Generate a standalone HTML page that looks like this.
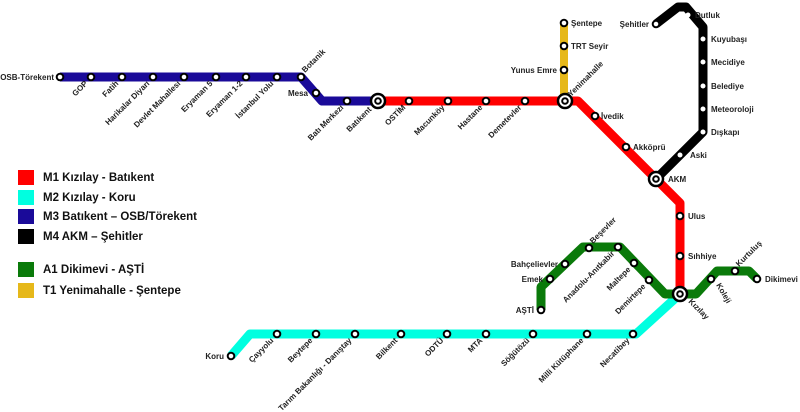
<!DOCTYPE html>
<html><head><meta charset="utf-8"><style>
html,body{margin:0;padding:0;background:#fff;}
svg{display:block;}
text{font-family:"Liberation Sans",sans-serif;font-weight:bold;font-size:8px;fill:#222;}
.lg{font-size:11.5px;fill:#111;}
.s{fill:#fff;stroke:#000;stroke-width:2;}
.w{fill:#fff;stroke:none;}
</style></head><body>
<svg width="800" height="412" viewBox="0 0 800 412" xmlns="http://www.w3.org/2000/svg">
<g fill="none" stroke-linejoin="round" stroke-linecap="butt">
<path d="M564,101 V23" stroke="#e6b81a" stroke-width="8"/>
<path d="M60,77 H301 L322,101 H378" stroke="#1a0a99" stroke-width="9"/>
<path d="M378,101 H578 L680,203 V294" stroke="#ff0000" stroke-width="9"/>
<path d="M656,24 L678,7 H686 L703,27 V132 L656,179" stroke="#000" stroke-width="9"/>
<path d="M680,294 L636,334 H250 L231,356" stroke="#00ffe0" stroke-width="9"/>
<path d="M541,310 V287 L583,247 H620 L665,294 H696 L717,271 H749 L757,279" stroke="#0a7a0a" stroke-width="9"/>
</g>
<!-- stations -->
<g>
<circle class="s" cx="60" cy="77" r="3.3"/><circle class="s" cx="91" cy="77" r="3.3"/><circle class="s" cx="122" cy="77" r="3.3"/><circle class="s" cx="153" cy="77" r="3.3"/><circle class="s" cx="184" cy="77" r="3.3"/><circle class="s" cx="216" cy="77" r="3.3"/><circle class="s" cx="246" cy="77" r="3.3"/><circle class="s" cx="277" cy="77" r="3.3"/><circle class="s" cx="301" cy="77" r="3.3"/><circle class="s" cx="316" cy="93" r="3.3"/><circle class="s" cx="347" cy="101" r="3.3"/>
<circle class="s" cx="409" cy="101" r="3.3"/><circle class="s" cx="448" cy="101" r="3.3"/><circle class="s" cx="486" cy="101" r="3.3"/><circle class="s" cx="525" cy="101" r="3.3"/>
<circle class="s" cx="595" cy="116" r="3.3"/><circle class="s" cx="626" cy="147" r="3.3"/>
<circle class="s" cx="680" cy="216" r="3.3"/><circle class="s" cx="680" cy="256" r="3.3"/>
<circle class="s" cx="564" cy="23" r="3.3"/><circle class="s" cx="564" cy="46" r="3.3"/><circle class="s" cx="564" cy="70" r="3.3"/>
<circle class="s" cx="656" cy="24" r="3.3"/>
<circle class="w" cx="688" cy="15" r="2.5"/><circle class="w" cx="703" cy="39" r="2.5"/><circle class="w" cx="703" cy="62" r="2.5"/><circle class="w" cx="703" cy="86" r="2.5"/><circle class="w" cx="703" cy="109" r="2.5"/><circle class="w" cx="703" cy="132" r="2.5"/><circle class="w" cx="680" cy="155" r="2.5"/>
<circle class="s" cx="541" cy="310" r="3.3"/><circle class="s" cx="550" cy="279" r="3.3"/><circle class="s" cx="565" cy="264" r="3.3"/><circle class="s" cx="589" cy="248" r="3.3"/><circle class="s" cx="618" cy="247" r="3.3"/><circle class="s" cx="634" cy="263" r="3.3"/><circle class="s" cx="649" cy="280" r="3.3"/><circle class="s" cx="711" cy="279" r="3.3"/><circle class="s" cx="735" cy="271" r="3.3"/><circle class="s" cx="757" cy="279" r="3.3"/>
<circle class="s" cx="231" cy="356" r="3.3"/><circle class="s" cx="277" cy="334" r="3.3"/><circle class="s" cx="316" cy="334" r="3.3"/><circle class="s" cx="355" cy="334" r="3.3"/><circle class="s" cx="401" cy="334" r="3.3"/><circle class="s" cx="447" cy="334" r="3.3"/><circle class="s" cx="486" cy="334" r="3.3"/><circle class="s" cx="533" cy="334" r="3.3"/><circle class="s" cx="587" cy="334" r="3.3"/><circle class="s" cx="633" cy="334" r="3.3"/>
</g>
<!-- interchanges -->
<g>
<circle cx="378" cy="101" r="7" fill="#fff" stroke="#000" stroke-width="2.5"/><circle cx="378" cy="101" r="2.8" fill="#fff" stroke="#000" stroke-width="2"/>
<circle cx="565" cy="101" r="7" fill="#fff" stroke="#000" stroke-width="2.5"/><circle cx="565" cy="101" r="2.8" fill="#fff" stroke="#000" stroke-width="2"/>
<circle cx="656" cy="179" r="7" fill="#fff" stroke="#000" stroke-width="2.5"/><circle cx="656" cy="179" r="2.8" fill="#fff" stroke="#000" stroke-width="2"/>
<circle cx="680" cy="294" r="7" fill="#fff" stroke="#000" stroke-width="2.5"/><circle cx="680" cy="294" r="2.8" fill="#fff" stroke="#000" stroke-width="2"/>
</g>
<!-- horizontal labels -->
<text x="54" y="80" text-anchor="end">OSB-Törekent</text>
<text x="308" y="96" text-anchor="end">Mesa</text>
<text x="571" y="26">Şentepe</text>
<text x="571" y="49">TRT Seyir</text>
<text x="557" y="73" text-anchor="end">Yunus Emre</text>
<text x="649" y="27" text-anchor="end">Şehitler</text>
<text x="695" y="18">Dutluk</text>
<text x="711" y="42">Kuyubaşı</text>
<text x="711" y="65">Mecidiye</text>
<text x="711" y="89">Belediye</text>
<text x="711" y="112">Meteoroloji</text>
<text x="711" y="135">Dışkapı</text>
<text x="690" y="158">Aski</text>
<text x="668" y="182">AKM</text>
<text x="601" y="119">İvedik</text>
<text x="633" y="150">Akköprü</text>
<text x="688" y="219">Ulus</text>
<text x="688" y="259">Sıhhiye</text>
<text x="558" y="267" text-anchor="end">Bahçelievler</text>
<text x="543" y="282" text-anchor="end">Emek</text>
<text x="534" y="313" text-anchor="end">AŞTİ</text>
<text x="765" y="282">Dikimevi</text>
<text x="224" y="359" text-anchor="end">Koru</text>
<!-- rotated up-right labels -->
<text transform="translate(305,73) rotate(-45)">Botanik</text>
<text transform="translate(571,97) rotate(-45)">Yenimahalle</text>
<text transform="translate(593,244) rotate(-45)">Beşevler</text>
<text transform="translate(739,267) rotate(-45)">Kurtuluş</text>
<text transform="translate(716,285) rotate(60)">Koleji</text>
<text transform="translate(688,302) rotate(45)">Kızılay</text>
<!-- rotated below-left labels -->
<g text-anchor="end">
<text transform="translate(88,84) rotate(-45)">GOP</text>
<text transform="translate(119,84) rotate(-45)">Fatih</text>
<text transform="translate(150,84) rotate(-45)">Harikalar Diyarı</text>
<text transform="translate(181,84) rotate(-45)">Devlet Mahallesi</text>
<text transform="translate(213,84) rotate(-45)">Eryaman 5</text>
<text transform="translate(243,84) rotate(-45)">Eryaman 1-2</text>
<text transform="translate(274,84) rotate(-45)">İstanbul Yolu</text>
<text transform="translate(344,108) rotate(-45)">Batı Merkezi</text>
<text transform="translate(372,110) rotate(-45)">Batıkent</text>
<text transform="translate(406,108) rotate(-45)">OSTİM</text>
<text transform="translate(445,108) rotate(-45)">Macunköy</text>
<text transform="translate(483,108) rotate(-45)">Hastane</text>
<text transform="translate(522,108) rotate(-45)">Demetevler</text>
<text transform="translate(615,254) rotate(-45)">Anadolu-Anıtkabir</text>
<text transform="translate(631,270) rotate(-45)">Maltepe</text>
<text transform="translate(646,287) rotate(-45)">Demirtepe</text>
<text transform="translate(274,341) rotate(-45)">Çayyolu</text>
<text transform="translate(313,341) rotate(-45)">Beytepe</text>
<text transform="translate(352,341) rotate(-45)">Tarım Bakanlığı - Danıştay</text>
<text transform="translate(398,341) rotate(-45)">Bilkent</text>
<text transform="translate(444,341) rotate(-45)">ODTÜ</text>
<text transform="translate(483,341) rotate(-45)">MTA</text>
<text transform="translate(530,341) rotate(-45)">Söğütözü</text>
<text transform="translate(584,341) rotate(-45)">Milli Kütüphane</text>
<text transform="translate(630,341) rotate(-45)">Necatibey</text>
</g>
<!-- legend -->
<rect x="18" y="170" width="16" height="15" fill="#ff0000"/>
<rect x="18" y="190" width="16" height="15" fill="#00ffe0"/>
<rect x="18" y="209" width="16" height="15" fill="#1a0a99"/>
<rect x="18" y="229" width="16" height="15" fill="#000"/>
<rect x="18" y="262" width="16" height="15" fill="#0a7a0a"/>
<rect x="18" y="283" width="16" height="15" fill="#e6b81a"/>
<text class="lg" x="43" y="181">M1  Kızılay - Batıkent</text>
<text class="lg" x="43" y="201">M2  Kızılay - Koru</text>
<text class="lg" x="43" y="220">M3  Batıkent – OSB/Törekent</text>
<text class="lg" x="43" y="240">M4  AKM – Şehitler</text>
<text class="lg" x="43" y="273">A1 Dikimevi - AŞTİ</text>
<text class="lg" x="43" y="294">T1 Yenimahalle - Şentepe</text>
</svg>
</body></html>
